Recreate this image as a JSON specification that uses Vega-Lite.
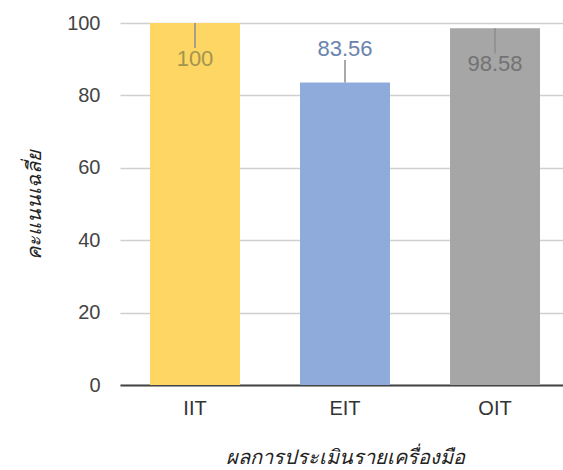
{
  "$schema": "https://vega.github.io/schema/vega-lite/v6.json",
  "width": 450,
  "height": 362,
  "autosize": {"type": "none"},
  "padding": {"left": 120, "top": 23, "right": 0, "bottom": 85},
  "background": "white",
  "config": {
    "view": {"stroke": null},
    "font": "Liberation Sans, Arial, sans-serif"
  },
  "data": {
    "values": [
      {"tool": "IIT", "value": 100, "err": 93.1, "dir": "down", "label": "100"},
      {"tool": "EIT", "value": 83.56, "err": 89.8, "dir": "up", "label": "83.56"},
      {"tool": "OIT", "value": 98.58, "err": 91.6, "dir": "down", "label": "98.58"}
    ]
  },
  "encoding": {
    "x": {
      "field": "tool",
      "type": "nominal",
      "sort": ["IIT", "EIT", "OIT"],
      "scale": {"paddingInner": 0.4, "paddingOuter": 0.2},
      "axis": {
        "title": "ผลการประเมินรายเครื่องมือ",
        "titleFontStyle": "italic",
        "titleFontWeight": "normal",
        "titleFontSize": 20,
        "titleColor": "#222",
        "titlePadding": 29,
        "labelAngle": 0,
        "labelFontSize": 20,
        "labelColor": "#333",
        "labelPadding": 13,
        "ticks": false,
        "domainColor": "#444",
        "domainWidth": 2
      }
    }
  },
  "layer": [
    {
      "mark": {"type": "bar"},
      "encoding": {
        "y": {
          "field": "value",
          "type": "quantitative",
          "scale": {"domain": [0, 100], "nice": false},
          "axis": {
            "title": "คะแนนเฉลี่ย",
            "titleFontStyle": "italic",
            "titleFontWeight": "normal",
            "titleFontSize": 20,
            "titleColor": "#222",
            "titlePadding": 22,
            "values": [0, 10, 20, 30, 40, 50, 60, 70, 80, 90, 100],
            "labelExpr": "datum.value % 20 === 0 ? datum.label : ''",
            "labelFontSize": 20,
            "labelColor": "#444",
            "labelPadding": 20,
            "ticks": false,
            "domain": false,
            "gridColor": {"condition": {"test": "datum.value % 20 === 0", "value": "#cfcfcf"}, "value": "#ececec"},
            "gridWidth": 1.3
          }
        },
        "color": {
          "field": "tool",
          "type": "nominal",
          "scale": {"domain": ["IIT", "EIT", "OIT"], "range": ["#FDD663", "#8FABDC", "#A6A6A6"]},
          "legend": null
        }
      }
    },
    {
      "mark": {"type": "rule", "color": "#8c8c8c", "strokeWidth": 1.5},
      "encoding": {
        "y": {"field": "value", "type": "quantitative"},
        "y2": {"field": "err"}
      }
    },
    {
      "transform": [{"filter": "datum.dir === 'down'"}],
      "mark": {"type": "text", "baseline": "top", "fontSize": 22, "dy": 1},
      "encoding": {
        "y": {"field": "err", "type": "quantitative"},
        "text": {"field": "label"},
        "color": {
          "condition": {"test": "datum.tool === 'IIT'", "value": "#a3944f"},
          "value": "#737373"
        }
      }
    },
    {
      "transform": [{"filter": "datum.dir === 'up'"}],
      "mark": {"type": "text", "baseline": "alphabetic", "fontSize": 22, "dy": -4, "color": "#6a82ae"},
      "encoding": {
        "y": {"field": "err", "type": "quantitative"},
        "text": {"field": "label"}
      }
    }
  ]
}
